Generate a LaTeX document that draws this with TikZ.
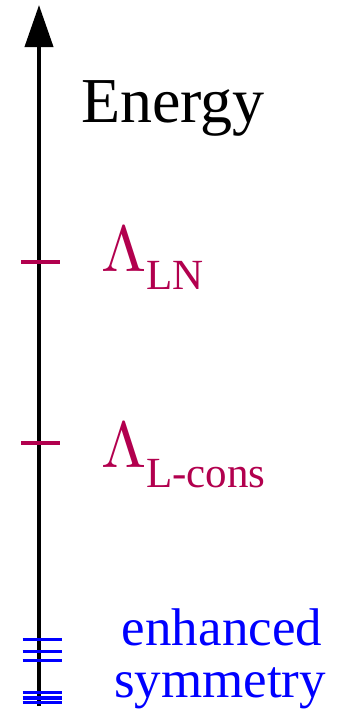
\documentclass[tikz,border=0pt]{standalone}
\usepackage{graphicx}
\usepackage{fontspec}
\setmainfont{Liberation Serif}
\usetikzlibrary{arrows.meta}
\definecolor{lamred}{RGB}{178,0,78}
\definecolor{symblue}{RGB}{0,0,255}
\newcommand{\bigLam}{\scalebox{6.5}{$\Lambda$}}
\begin{document}
\begin{tikzpicture}[x=1pt,y=1pt,
  axisline/.style={line width=4pt,draw=black},
  redtick/.style={line width=3.6pt,draw=lamred},
  bluetick/.style={line width=3.4pt,draw=symblue},
  lbl/.style={inner sep=0pt,outer sep=0pt,anchor=base west}]
\useasboundingbox (0,0) rectangle (340,-716);
\coordinate (bot) at (39,-706);
\coordinate (top) at (39,-5);
\draw[axisline,-{Triangle[width=28pt,length=42pt]}] (bot) -- (top);
% red ticks
\coordinate (r1a) at (21,-261.7); \coordinate (r1b) at (60,-261.7);
\coordinate (r2a) at (21,-442.7); \coordinate (r2b) at (60,-442.7);
\draw[redtick] (r1a) -- (r1b);
\draw[redtick] (r2a) -- (r2b);
% blue ticks
\foreach \yy/\nm in {639.7/b1,651.7/b2,660.3/b3,692.7/b4,697.8/b5,702.7/b6}{
  \coordinate (\nm a) at (22.7,-\yy); \coordinate (\nm b) at (61.7,-\yy);
  \draw[bluetick] (\nm a) -- (\nm b);
}
\node[lbl] (energy) at (81,-122) {\fontsize{64}{64}\selectfont Energy};
\node[lbl,text=lamred] (lamLN) at (101,-271) {\bigLam\raisebox{-18pt}{\fontsize{43}{43}\selectfont LN}};
\node[lbl,text=lamred] (lamL) at (101,-467) {\bigLam\raisebox{-20pt}{\fontsize{43}{43}\selectfont L-cons}};
\node[inner sep=0pt,anchor=base,text=symblue] (enh) at (222,-645) {\fontsize{53}{53}\selectfont enhanced};
\node[inner sep=0pt,anchor=base,text=symblue] (sym) at (220,-697) {\fontsize{53}{53}\selectfont symmetry};
\end{tikzpicture}
\end{document}
